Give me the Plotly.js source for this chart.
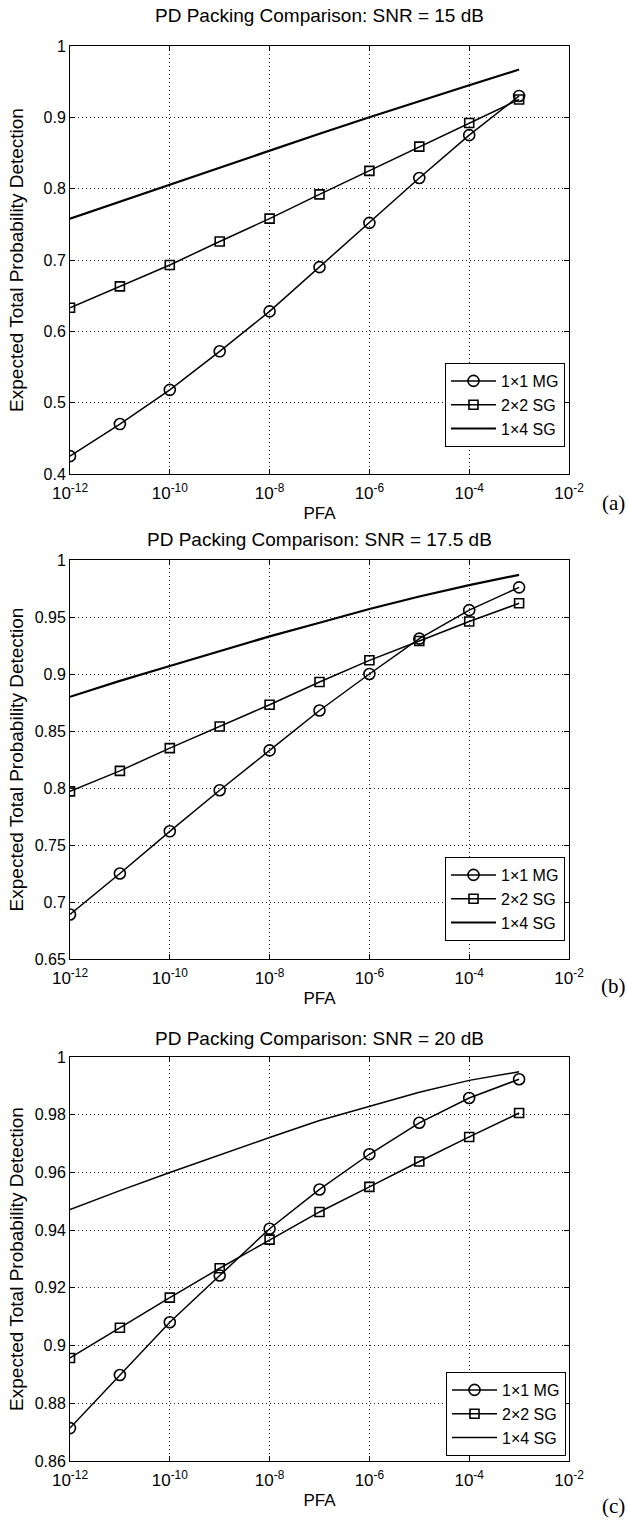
<!DOCTYPE html>
<html><head><meta charset="utf-8">
<script src="https://cdn.plot.ly/plotly-3.0.1.min.js"></script>
<style>html,body{margin:0;padding:0;background:#fff}#chart{width:627px;height:1523px}</style>
</head><body><div id="chart"></div>
<script>
// ---------------- data ----------------
const pfa = [1e-12, 1e-11, 1e-10, 1e-9, 1e-8, 1e-7, 1e-6, 1e-5, 1e-4, 1e-3];
const seriesNames = ['1\u00d71 MG', '2\u00d72 SG', '1\u00d74 SG'];
const panelTitles = ['PD Packing Comparison: SNR = 15 dB', 'PD Packing Comparison: SNR = 17.5 dB', 'PD Packing Comparison: SNR = 20 dB'];
const panelLabels = ['(a)', '(b)', '(c)'];

// SNR = 15 dB
const mg15   = [0.425, 0.470, 0.518, 0.572, 0.628, 0.690, 0.752, 0.815, 0.875, 0.930];
const sg22_15 = [0.633, 0.663, 0.693, 0.726, 0.758, 0.792, 0.825, 0.859, 0.892, 0.925];
const sg14_15 = [0.758, 0.782, 0.805, 0.829, 0.853, 0.877, 0.900, 0.923, 0.945, 0.967];
// SNR = 17.5 dB
const mg175   = [0.689, 0.725, 0.762, 0.798, 0.833, 0.868, 0.900, 0.931, 0.956, 0.976];
const sg22_175 = [0.797, 0.815, 0.835, 0.854, 0.873, 0.893, 0.912, 0.929, 0.946, 0.962];
const sg14_175 = [0.880, 0.894, 0.907, 0.920, 0.933, 0.945, 0.957, 0.968, 0.978, 0.987];
// SNR = 20 dB
const mg20   = [0.8714, 0.8898, 0.9081, 0.9243, 0.9405, 0.9541, 0.9663, 0.9772, 0.9858, 0.9923];
const sg22_20 = [0.8957, 0.9062, 0.9166, 0.9268, 0.9367, 0.9463, 0.9550, 0.9638, 0.9723, 0.9806];
const sg14_20 = [0.9471, 0.9537, 0.9600, 0.9661, 0.9721, 0.9780, 0.9830, 0.9878, 0.9919, 0.9949];

const xTickVals = [1e-12, 1e-10, 1e-8, 1e-6, 1e-4, 1e-2];
const xTickText = ['10<sup>-12</sup>', '10<sup>-10</sup>', '10<sup>-8</sup>', '10<sup>-6</sup>', '10<sup>-4</sup>', '10<sup>-2</sup>'];
const yTicksA = [0.4, 0.5, 0.6, 0.7, 0.8, 0.9, 1];
const yTextA  = ['0.4', '0.5', '0.6', '0.7', '0.8', '0.9', '1'];
const yTicksB = [0.65, 0.7, 0.75, 0.8, 0.85, 0.9, 0.95, 1];
const yTextB  = ['0.65', '0.7', '0.75', '0.8', '0.85', '0.9', '0.95', '1'];
const yTicksC = [0.86, 0.88, 0.9, 0.92, 0.94, 0.96, 0.98, 1];
const yTextC  = ['0.86', '0.88', '0.9', '0.92', '0.94', '0.96', '0.98', '1'];
const yRanges = [[0.4, 1], [0.65, 1], [0.86, 1]];
const xLabel = 'PFA';
const yLabel = 'Expected Total Probability Detection';

// ---------------- geometry (pixels) ----------------
const W = 627, H = 1523;
const plotX = [70, 569];
const plotY = [[46, 474], [560, 959], [1057, 1461]];
const legendBox = [[565, 447], [565, 941], [566, 1456]]; // right, bottom
const titleY = [15, 540, 1038];
const labelY = [503, 986, 1506];
const yTitleStandoff = [14, 6, 6];
const FONT = 'Liberation Sans, Arial, sans-serif';

const data = [];
const panels = [[mg15, sg22_15, sg14_15], [mg175, sg22_175, sg14_175], [mg20, sg22_20, sg14_20]];
panels.forEach((p, i) => {
  const ax = i === 0 ? '' : String(i + 1);
  const leg = i === 0 ? 'legend' : 'legend' + (i + 1);
  data.push({x: pfa, y: p[0], xaxis: 'x' + ax, yaxis: 'y' + ax, legend: leg, name: seriesNames[0], mode: 'lines+markers',
    line: {color: '#000', width: 1.5}, marker: {symbol: 'circle-open', size: 11, color: '#000', line: {width: 1.6, color: '#000'}}});
  data.push({x: pfa, y: p[1], xaxis: 'x' + ax, yaxis: 'y' + ax, legend: leg, name: seriesNames[1], mode: 'lines+markers',
    line: {color: '#000', width: 1.5}, marker: {symbol: 'square-open', size: 9, color: '#000', line: {width: 1.6, color: '#000'}}});
  data.push({x: pfa, y: p[2], xaxis: 'x' + ax, yaxis: 'y' + ax, legend: leg, name: seriesNames[2], mode: 'lines',
    line: {color: '#000', width: i === 2 ? 1.5 : 2.2}});
});

const layout = {
  width: W, height: H, margin: {l: 0, r: 0, t: 0, b: 0},
  paper_bgcolor: '#fff', plot_bgcolor: '#fff',
  font: {family: FONT, size: 16, color: '#000'},
  showlegend: true, annotations: []
};
const yTicks = [[yTicksA, yTextA], [yTicksB, yTextB], [yTicksC, yTextC]];
for (let i = 0; i < 3; i++) {
  const ax = i === 0 ? '' : String(i + 1);
  const dom = [1 - plotY[i][1] / H, 1 - plotY[i][0] / H];
  layout['xaxis' + ax] = {
    type: 'log', range: [-12, -2], domain: [plotX[0] / W, plotX[1] / W], anchor: 'y' + ax,
    tickvals: xTickVals, ticktext: xTickText, ticks: 'inside', ticklen: 5, tickcolor: '#000',
    showline: true, linecolor: '#000', linewidth: 1, mirror: 'ticks',
    showgrid: true, gridcolor: '#222', griddash: '1px,3px', gridwidth: 1, zeroline: false,
    tickfont: {size: 17}, ticklabelstandoff: 4,
    title: {text: xLabel, font: {size: 17}, standoff: 4}
  };
  layout['yaxis' + ax] = {
    range: yRanges[i], domain: dom, anchor: 'x' + ax,
    tickvals: yTicks[i][0], ticktext: yTicks[i][1], ticks: 'inside', ticklen: 5, tickcolor: '#000',
    showline: true, linecolor: '#000', linewidth: 1, mirror: 'ticks',
    showgrid: true, gridcolor: '#222', griddash: '1px,3px', gridwidth: 1, zeroline: false,
    tickfont: {size: 16}, title: {text: yLabel, font: {size: 19}, standoff: yTitleStandoff[i]}
  };
  const leg = i === 0 ? 'legend' : 'legend' + (i + 1);
  layout[leg] = {
    x: legendBox[i][0] / W, y: 1 - legendBox[i][1] / H, xanchor: 'right', yanchor: 'bottom',
    xref: 'paper', yref: 'paper', bgcolor: '#fff', bordercolor: '#000', borderwidth: 1,
    font: {size: 16, family: FONT}, tracegroupgap: 0, itemwidth: 45
  };
  layout.annotations.push({text: panelTitles[i], x: (plotX[0] + plotX[1]) / 2 / W, y: 1 - titleY[i] / H,
    xref: 'paper', yref: 'paper', showarrow: false, xanchor: 'center', yanchor: 'middle', font: {size: 19}});
  layout.annotations.push({text: panelLabels[i], x: 613 / W, y: 1 - labelY[i] / H,
    xref: 'paper', yref: 'paper', showarrow: false, xanchor: 'center', yanchor: 'middle',
    font: {size: 21, family: 'Liberation Serif, Times New Roman, serif'}});
}
Plotly.newPlot('chart', data, layout, {staticPlot: true, displayModeBar: false});
</script></body></html>
